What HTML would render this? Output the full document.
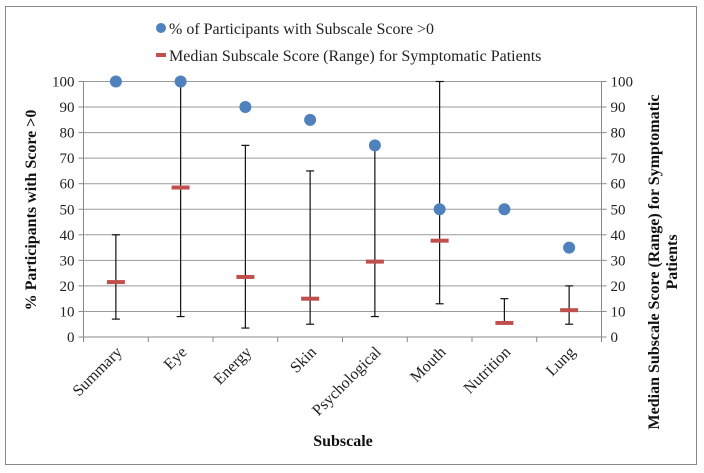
<!DOCTYPE html>
<html><head><meta charset="utf-8"><style>
html,body{margin:0;padding:0;background:#fff;}
svg{display:block;font-family:"Liberation Serif",serif;}
</style></head><body>
<svg width="704" height="473" viewBox="0 0 704 473">
<rect x="5.5" y="6.5" width="691" height="458" fill="#fff" stroke="#888" stroke-width="1"/>
<g id="grid"></g>
<g id="axes"></g>
<g id="marks"></g>
<g>
 <circle cx="161" cy="28" r="5" fill="#4f81bd"/>
 <text x="169" y="34" font-size="16" fill="#222">% of Participants with Subscale Score &gt;0</text>
 <rect x="156" y="53" width="10" height="4" fill="#c0504d"/>
 <text x="169" y="61" font-size="16" fill="#222">Median Subscale Score (Range) for Symptomatic Patients</text>
</g>
<text transform="translate(36,210) rotate(-90)" text-anchor="middle" font-size="16" font-weight="bold" fill="#111">% Participants with Score &gt;0</text>
<text transform="translate(659,262) rotate(-90)" text-anchor="middle" font-size="16" font-weight="bold" fill="#111">Median Subscale Score (Range) for Symptomatic</text>
<text transform="translate(677,262) rotate(-90)" text-anchor="middle" font-size="16" font-weight="bold" fill="#111">Patients</text>
<text x="343" y="446" text-anchor="middle" font-size="16" font-weight="bold" fill="#111">Subscale</text>
<script>
const categories=["Summary","Eye","Energy","Skin","Psychological","Mouth","Nutrition","Lung"];
const pctValues=[100,100,90,85,75,50,50,35];
const medianValues=[21.5,58.5,23.5,15,29.5,37.7,5.5,10.5];
const rangeLow=[7,8,3.5,5,8,13,5.5,5];
const rangeHigh=[40,100,75,65,75,100,15,20];
const yTicks=[0,10,20,30,40,50,60,70,80,90,100];
const NS="http://www.w3.org/2000/svg";
const X0=83.5,X1=601.5,Y0=337,Y1=81.5;
const bw=(X1-X0)/categories.length;
function xc(i){return X0+bw*(i+0.5);}
function y(v){return Y0-(v/100)*(Y0-Y1);}
function mk(p,tag,a){const e=document.createElementNS(NS,tag);for(const k in a)e.setAttribute(k,a[k]);p.appendChild(e);return e;}
const grid=document.getElementById('grid'),axes=document.getElementById('axes'),marks=document.getElementById('marks');
yTicks.forEach(t=>{
 if(t>0){const g=mk(grid,'line',{x1:X0,x2:X1,y1:y(t),y2:y(t),stroke:'#9a9a9a','stroke-width':1});
 
 }
 const l=mk(axes,'text',{x:X0-9,y:y(t)+5,'text-anchor':'end','font-size':15,fill:'#222'});l.textContent=t;
 
 
 const r=mk(axes,'text',{x:X1+9,y:y(t)+5,'text-anchor':'start','font-size':15,fill:'#222'});r.textContent=t;
 
 
 mk(axes,'line',{x1:X0-5,x2:X0,y1:y(t),y2:y(t),stroke:'#888'});
 mk(axes,'line',{x1:X1,x2:X1+5,y1:y(t),y2:y(t),stroke:'#888'});
});
mk(axes,'line',{x1:X0,x2:X0,y1:Y1,y2:Y0,stroke:'#888'});
mk(axes,'line',{x1:X1,x2:X1,y1:Y1,y2:Y0,stroke:'#888'});
mk(axes,'line',{x1:X0,x2:X1,y1:Y0,y2:Y0,stroke:'#888'});
for(let i=0;i<=categories.length;i++)mk(axes,'line',{x1:X0+bw*i,x2:X0+bw*i,y1:Y0,y2:Y0+5,stroke:'#888'});
categories.forEach((c,i)=>{
 const t=mk(axes,'text',{transform:`translate(${xc(i)+7},${Y0+16}) rotate(-45)`,'text-anchor':'end','font-size':16,fill:'#222'});t.textContent=c;
 
 
 const g=mk(marks,'g',{});
 
 
 const x=xc(i);
 mk(g,'line',{x1:x,x2:x,y1:y(rangeHigh[i]),y2:y(rangeLow[i]),stroke:'#111','stroke-width':1.2});
 mk(g,'line',{x1:x-4,x2:x+4,y1:y(rangeHigh[i]),y2:y(rangeHigh[i]),stroke:'#111','stroke-width':1.2});
 mk(g,'line',{x1:x-4,x2:x+4,y1:y(rangeLow[i]),y2:y(rangeLow[i]),stroke:'#111','stroke-width':1.2});
 const m=mk(marks,'rect',{x:x-9,y:y(medianValues[i])-2,width:18,height:4,fill:'#c0504d'});
 
 
 const d=mk(marks,'circle',{cx:x,cy:y(pctValues[i]),r:6,fill:'#4f81bd'});
 
 
});
</script>
</svg>
</body></html>
